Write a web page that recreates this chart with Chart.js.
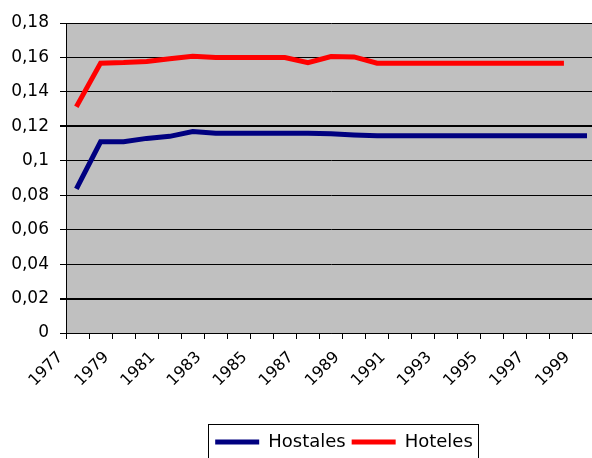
<!DOCTYPE html>
<html>
<head>
<meta charset="utf-8">
<script src="https://cdn.jsdelivr.net/npm/chart.js@4/dist/chart.umd.min.js"></script>
<style>
  html, body { margin: 0; padding: 0; overflow: hidden; background: #fff; }
  #wrap { width: 600px; height: 461px; }
</style>
</head>
<body>
<div id="wrap"><canvas id="c" width="600" height="461"></canvas></div>
<script>
const years = ['1977','1978','1979','1980','1981','1982','1983','1984','1985','1986','1987','1988',
               '1989','1990','1991','1992','1993','1994','1995','1996','1997','1998','1999'];
const hostales = [0.085, 0.111, 0.111, 0.113, 0.1142, 0.117, 0.116, 0.116, 0.116, 0.116, 0.116, 0.1157,
                  0.115, 0.1145, 0.1145, 0.1145, 0.1145, 0.1145, 0.1145, 0.1145, 0.1145, 0.1145, 0.1145];
const hoteles  = [0.1326, 0.1567, 0.157, 0.1577, 0.1592, 0.1607, 0.160, 0.160, 0.160, 0.160, 0.157, 0.1605,
                  0.1603, 0.1567, 0.1567, 0.1567, 0.1567, 0.1567, 0.1567, 0.1567, 0.1567, 0.1567, null];
const yTicks = [0, 0.02, 0.04, 0.06, 0.08, 0.1, 0.12, 0.14, 0.16, 0.18];
const seriesNames = ['Hostales', 'Hoteles'];

const plotBg = {
  id: 'plotBg',
  beforeDraw(chart) {
    const {ctx, chartArea: a} = chart;
    ctx.save();
    ctx.fillStyle = '#C0C0C0';
    ctx.fillRect(a.left, a.top, a.right - a.left, a.bottom - a.top);
    ctx.restore();
  }
};

const legendShift = {
  id: 'legendShift',
  afterLayout(chart) {
    const l = chart.legend;
    l.left += 46; l.right += 46;
  },
  afterDraw(chart) {
    const l = chart.legend;
    const pad = l.options.labels.padding;
    const w = l.lineWidths[0];
    const start = (l.left + pad + l.right - w) / 2;
    const end = start + w - pad;
    const ctx = chart.ctx;
    ctx.save();
    ctx.strokeStyle = '#000';
    ctx.lineWidth = 1;
    ctx.strokeRect(Math.round(start - 7) + 0.5, Math.round(l.top - 3) + 0.5, Math.round(end - start + 12), 60);
    ctx.restore();
  }
};

new Chart(document.getElementById('c'), {
  type: 'line',
  data: {
    labels: years,
    datasets: [
      { label: seriesNames[0], data: hostales, borderColor: '#000080', backgroundColor: '#000080',
        borderWidth: 5, pointRadius: 0, tension: 0, borderCapStyle: 'square', borderJoinStyle: 'miter' },
      { label: seriesNames[1], data: hoteles, borderColor: '#FF0000', backgroundColor: '#FF0000',
        borderWidth: 5, pointRadius: 0, tension: 0, borderCapStyle: 'square', borderJoinStyle: 'miter' }
    ]
  },
  options: {
    responsive: false,
    animation: false,
    devicePixelRatio: 1,
    layout: { padding: { top: 23, right: 4, left: 0, bottom: 0 } },
    plugins: {
      tooltip: { enabled: false },
      legend: {
        position: 'bottom',
        labels: {
          color: '#000',
          font: { family: 'DejaVu Sans', size: 18 },
          boxWidth: 44,
          boxHeight: 5,
          padding: 6,
          generateLabels(chart) {
            return chart.data.datasets.map((ds, i) => ({
              text: ds.label, fillStyle: ds.borderColor, strokeStyle: ds.borderColor,
              lineWidth: 0, hidden: false, datasetIndex: i, fontColor: '#000'
            }));
          }
        }
      }
    },
    scales: {
      x: {
        type: 'category',
        offset: true,
        grid: { display: true, offset: true, drawOnChartArea: false, drawTicks: true, tickLength: 6, color: '#000', lineWidth: 1 },
        border: { display: true, color: '#000', width: 1 },
        ticks: {
          autoSkip: false, maxRotation: 45, minRotation: 45,
          color: '#000', font: { family: 'DejaVu Sans', size: 16 },
          padding: 9, labelOffset: -17,
          callback(value, index) { return index % 2 === 0 ? this.getLabelForValue(value) : ''; }
        },
        afterFit(scale) { scale.height = 94; scale.paddingLeft = 0; scale.paddingRight = 0; }
      },
      y: {
        min: 0, max: 0.18,
        afterBuildTicks(scale) { scale.ticks = yTicks.map(v => ({ value: v })); },
        grid: {
          color: '#000',
          lineWidth(ctx) { const v = ctx.tick && ctx.tick.value; return (Math.abs(v - 0.12) < 1e-9 || Math.abs(v - 0.02) < 1e-9) ? 2 : 1; },
          drawTicks: true, tickLength: 6
        },
        border: { display: true, color: '#000', width: 1 },
        ticks: {
          color: '#000', font: { family: 'DejaVu Sans', size: 17 }, padding: 11,
          callback(v) { return String(Number(v.toFixed(2))).replace('.', ','); }
        },
        afterFit(scale) { scale.width = 66; }
      }
    }
  },
  plugins: [plotBg, legendShift]
});
</script>
</body>
</html>
